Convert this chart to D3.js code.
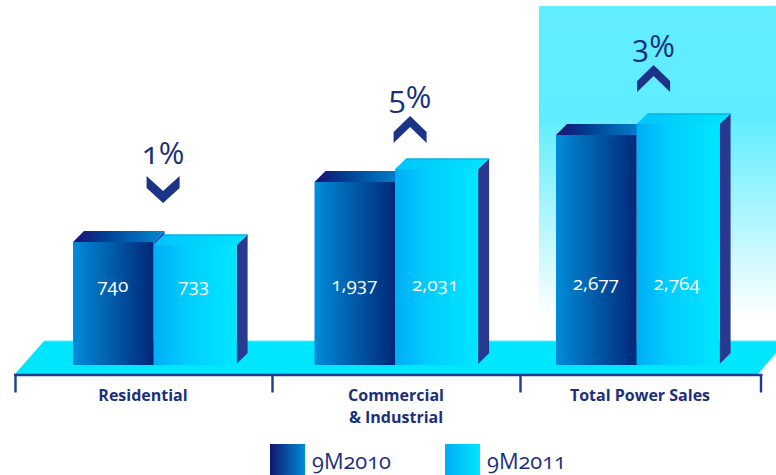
<!DOCTYPE html>
<html>
<head>
<meta charset="utf-8">
<script src="https://cdnjs.cloudflare.com/ajax/libs/d3/7.8.5/d3.min.js"></script>
<style>
  html, body { margin: 0; padding: 0; background: #fff; }
  svg { display: block; }
  text { font-family: "Open Sans", sans-serif; font-variant-numeric: oldstyle-nums; }
</style>
</head>
<body>
<svg id="chart" width="776" height="475"></svg>
<script>
// Power sales by segment
const categories = ["Residential", "Commercial\n& Industrial", "Total Power Sales"];
const series = ["9M2010", "9M2011"];
const sales2010 = [740, 1937, 2677];
const sales2011 = [733, 2031, 2764];
const changePct = [1, 5, 3];
const changeDir = ["down", "up", "up"];

// The bars follow a stepped, non-proportional height scale
const heightDomain = [0, 733, 740, 1937, 2031, 2677, 2764];
const heightRange = [0, 120, 123, 183, 196, 230, 241];

const W = 776, H = 475;
const baseY = 365, depth = 11, lightLift = 10.5, darkW = 80.6, lightW = 83;

const svg = d3.select("#chart");
const defs = svg.append("defs");

function linGrad(id, stops, vertical) {
  const g = defs.append("linearGradient").attr("id", id)
    .attr("x1", 0).attr("y1", 0)
    .attr("x2", vertical ? 0 : 1).attr("y2", vertical ? 1 : 0);
  stops.forEach(([o, c]) => g.append("stop").attr("offset", o).attr("stop-color", c));
}
linGrad("darkFront", [[0, "#008cd9"], [1, "#002878"]]);
linGrad("lightFront", [[0, "#00adf5"], [0.38, "#00cdff"], [1, "#00e6ff"]]);
linGrad("darkTop", [[0, "#1c1070"], [0.35, "#003f92"], [1, "#008ad6"]]);
linGrad("lightTop", [[0, "#00c4fb"], [1, "#00e4ff"]]);
linGrad("legendDark", [[0, "#10166c"], [1, "#008cd9"]]);
linGrad("legendLight", [[0, "#00adf5"], [1, "#00e6ff"]]);
linGrad("panel", [[0, "#62eeff"], [0.33, "#5eedff"], [0.93, "#ffffff"]], true);

const x = d3.scalePoint().domain(categories).range([73, 556]);
const h = d3.scaleLinear().domain(heightDomain).range(heightRange);
const y = v => baseY - h(v);

const navy = "#1b2f7c", edge = "#203a8e", sideCol = "#283a8f";

// Highlight panel behind the totals
svg.append("rect").attr("x", 539).attr("y", 6).attr("width", 237).attr("height", 335)
  .attr("fill", "url(#panel)");

// Floor slab
const pathOf = d3.line();
svg.append("path")
  .attr("d", pathOf([[15, 374], [44, 341], [776, 341], [776, 353], [758, 374]]) + "Z")
  .attr("fill", "#00e6ff");
svg.append("line").attr("x1", 44).attr("x2", 776).attr("y1", 341).attr("y2", 341)
  .attr("stroke", "#5cf0ff").attr("stroke-width", 1);

// Category axis: a rule with separator ticks
const axisEdges = [15.5, 272.5, 520.5, 761];
svg.append("line").attr("x1", 14).attr("x2", 762.5).attr("y1", 375).attr("y2", 375)
  .attr("stroke", edge).attr("stroke-width", 2.4);
svg.selectAll(".sep").data(axisEdges).join("line").attr("class", "sep")
  .attr("x1", d => d).attr("x2", d => d).attr("y1", 375).attr("y2", 392.5)
  .attr("stroke", edge).attr("stroke-width", 2.4);

// Paired 3D bars
const groups = svg.selectAll(".group").data(categories).join("g").attr("class", "group");
groups.each(function (cat, i) {
  const g = d3.select(this);
  const x0 = x(cat), x1 = x0 + darkW, x2 = x1 + lightW;
  const yD = y(sales2010[i]), yL = y(sales2011[i]);
  const darkIsTaller = yD < yL;

  const darkTop = () => g.append("path")
    .attr("d", pathOf([[x0, yD], [x0 + depth, yD - depth], [x1 + depth, yD - depth], [x1, yD]]) + "Z")
    .attr("fill", "url(#darkTop)");

  if (!darkIsTaller) darkTop();

  // Right side face of the light bar, with its notch at the floor
  g.append("path")
    .attr("d", pathOf([[x2, yL], [x2 + depth, yL - lightLift], [x2 + depth, baseY - 12], [x2, baseY - 1]]) + "Z")
    .attr("fill", sideCol);
  // Top face of the light bar
  g.append("path")
    .attr("d", pathOf([[x1, yL], [x1 + depth, yL - lightLift], [x2 + depth, yL - lightLift], [x2, yL]]) + "Z")
    .attr("fill", "url(#lightTop)");
  g.append("line").attr("x1", x1 + depth).attr("x2", x2 + depth)
    .attr("y1", yL - lightLift + 0.5).attr("y2", yL - lightLift + 0.5)
    .attr("stroke", "#0aa0dc").attr("stroke-width", 1);

  // Where the dark bar stands taller, its shoulder closes the step to the light bar
  if (darkIsTaller) {
    g.append("path")
      .attr("d", pathOf([[x1, yL], [x1, yD], [x1 + depth, yD - depth], [x1 + depth, yL - lightLift]]) + "Z")
      .attr("fill", "#0a5cb4");
  }

  g.append("rect").attr("x", x1).attr("y", yL).attr("width", lightW).attr("height", baseY - yL)
    .attr("fill", "url(#lightFront)");
  if (darkIsTaller) darkTop();
  g.append("rect").attr("x", x0).attr("y", yD).attr("width", darkW).attr("height", baseY - yD)
    .attr("fill", "url(#darkFront)");

  // Value labels on the bars
  const fmt = d3.format(",");
  [[sales2010[i], x0 + darkW / 2 - 0.5], [sales2011[i], x1 + lightW / 2 - 1.5]].forEach(([v, cx]) => {
    g.append("text").attr("x", cx).attr("y", 292 - i)
      .attr("text-anchor", "middle").attr("fill", "#fff")
      .attr("font-size", 19).text(fmt(v));
  });
});

// Change markers above each pair
const markerBottom = [203, 143, 92];
const markerOffset = [9.5, 15, 17];
const percentBase = [164, 108, 57];
categories.forEach((cat, i) => {
  const cx = x(cat) + darkW + markerOffset[i];
  const b = markerBottom[i], hw = 16.5;
  const pts = changeDir[i] === "up"
    ? [[cx, b - 27], [cx + hw, b - 11], [cx + hw, b], [cx, b - 16], [cx - hw, b], [cx - hw, b - 11]]
    : [[cx, b], [cx + hw, b - 15], [cx + hw, b - 27], [cx, b - 12], [cx - hw, b - 27], [cx - hw, b - 15]];
  svg.append("path").attr("d", pathOf(pts) + "Z").attr("fill", "#1c3488");
  svg.append("text").attr("x", cx).attr("y", percentBase[i]).attr("text-anchor", "middle")
    .attr("fill", navy).attr("font-size", 31).text(changePct[i] + "%");
});

// Category labels
const labelCenter = [143, 396, 640];
categories.forEach((cat, i) => {
  cat.split("\n").forEach((line, k) => {
    svg.append("text").attr("x", labelCenter[i]).attr("y", 401 + k * 22)
      .attr("text-anchor", "middle").attr("fill", navy)
      .attr("font-size", 16).attr("font-weight", 700).text(line);
  });
});

// Legend
const legendX = [270, 445], legendFill = ["url(#legendDark)", "url(#legendLight)"];
series.forEach((s, i) => {
  svg.append("rect").attr("x", legendX[i]).attr("y", 444).attr("width", 35).attr("height", 31)
    .attr("fill", legendFill[i]);
  svg.append("text").attr("x", legendX[i] + 42).attr("y", 469)
    .attr("fill", navy).attr("font-size", 21.8).text(s);
});
</script>
</body>
</html>
